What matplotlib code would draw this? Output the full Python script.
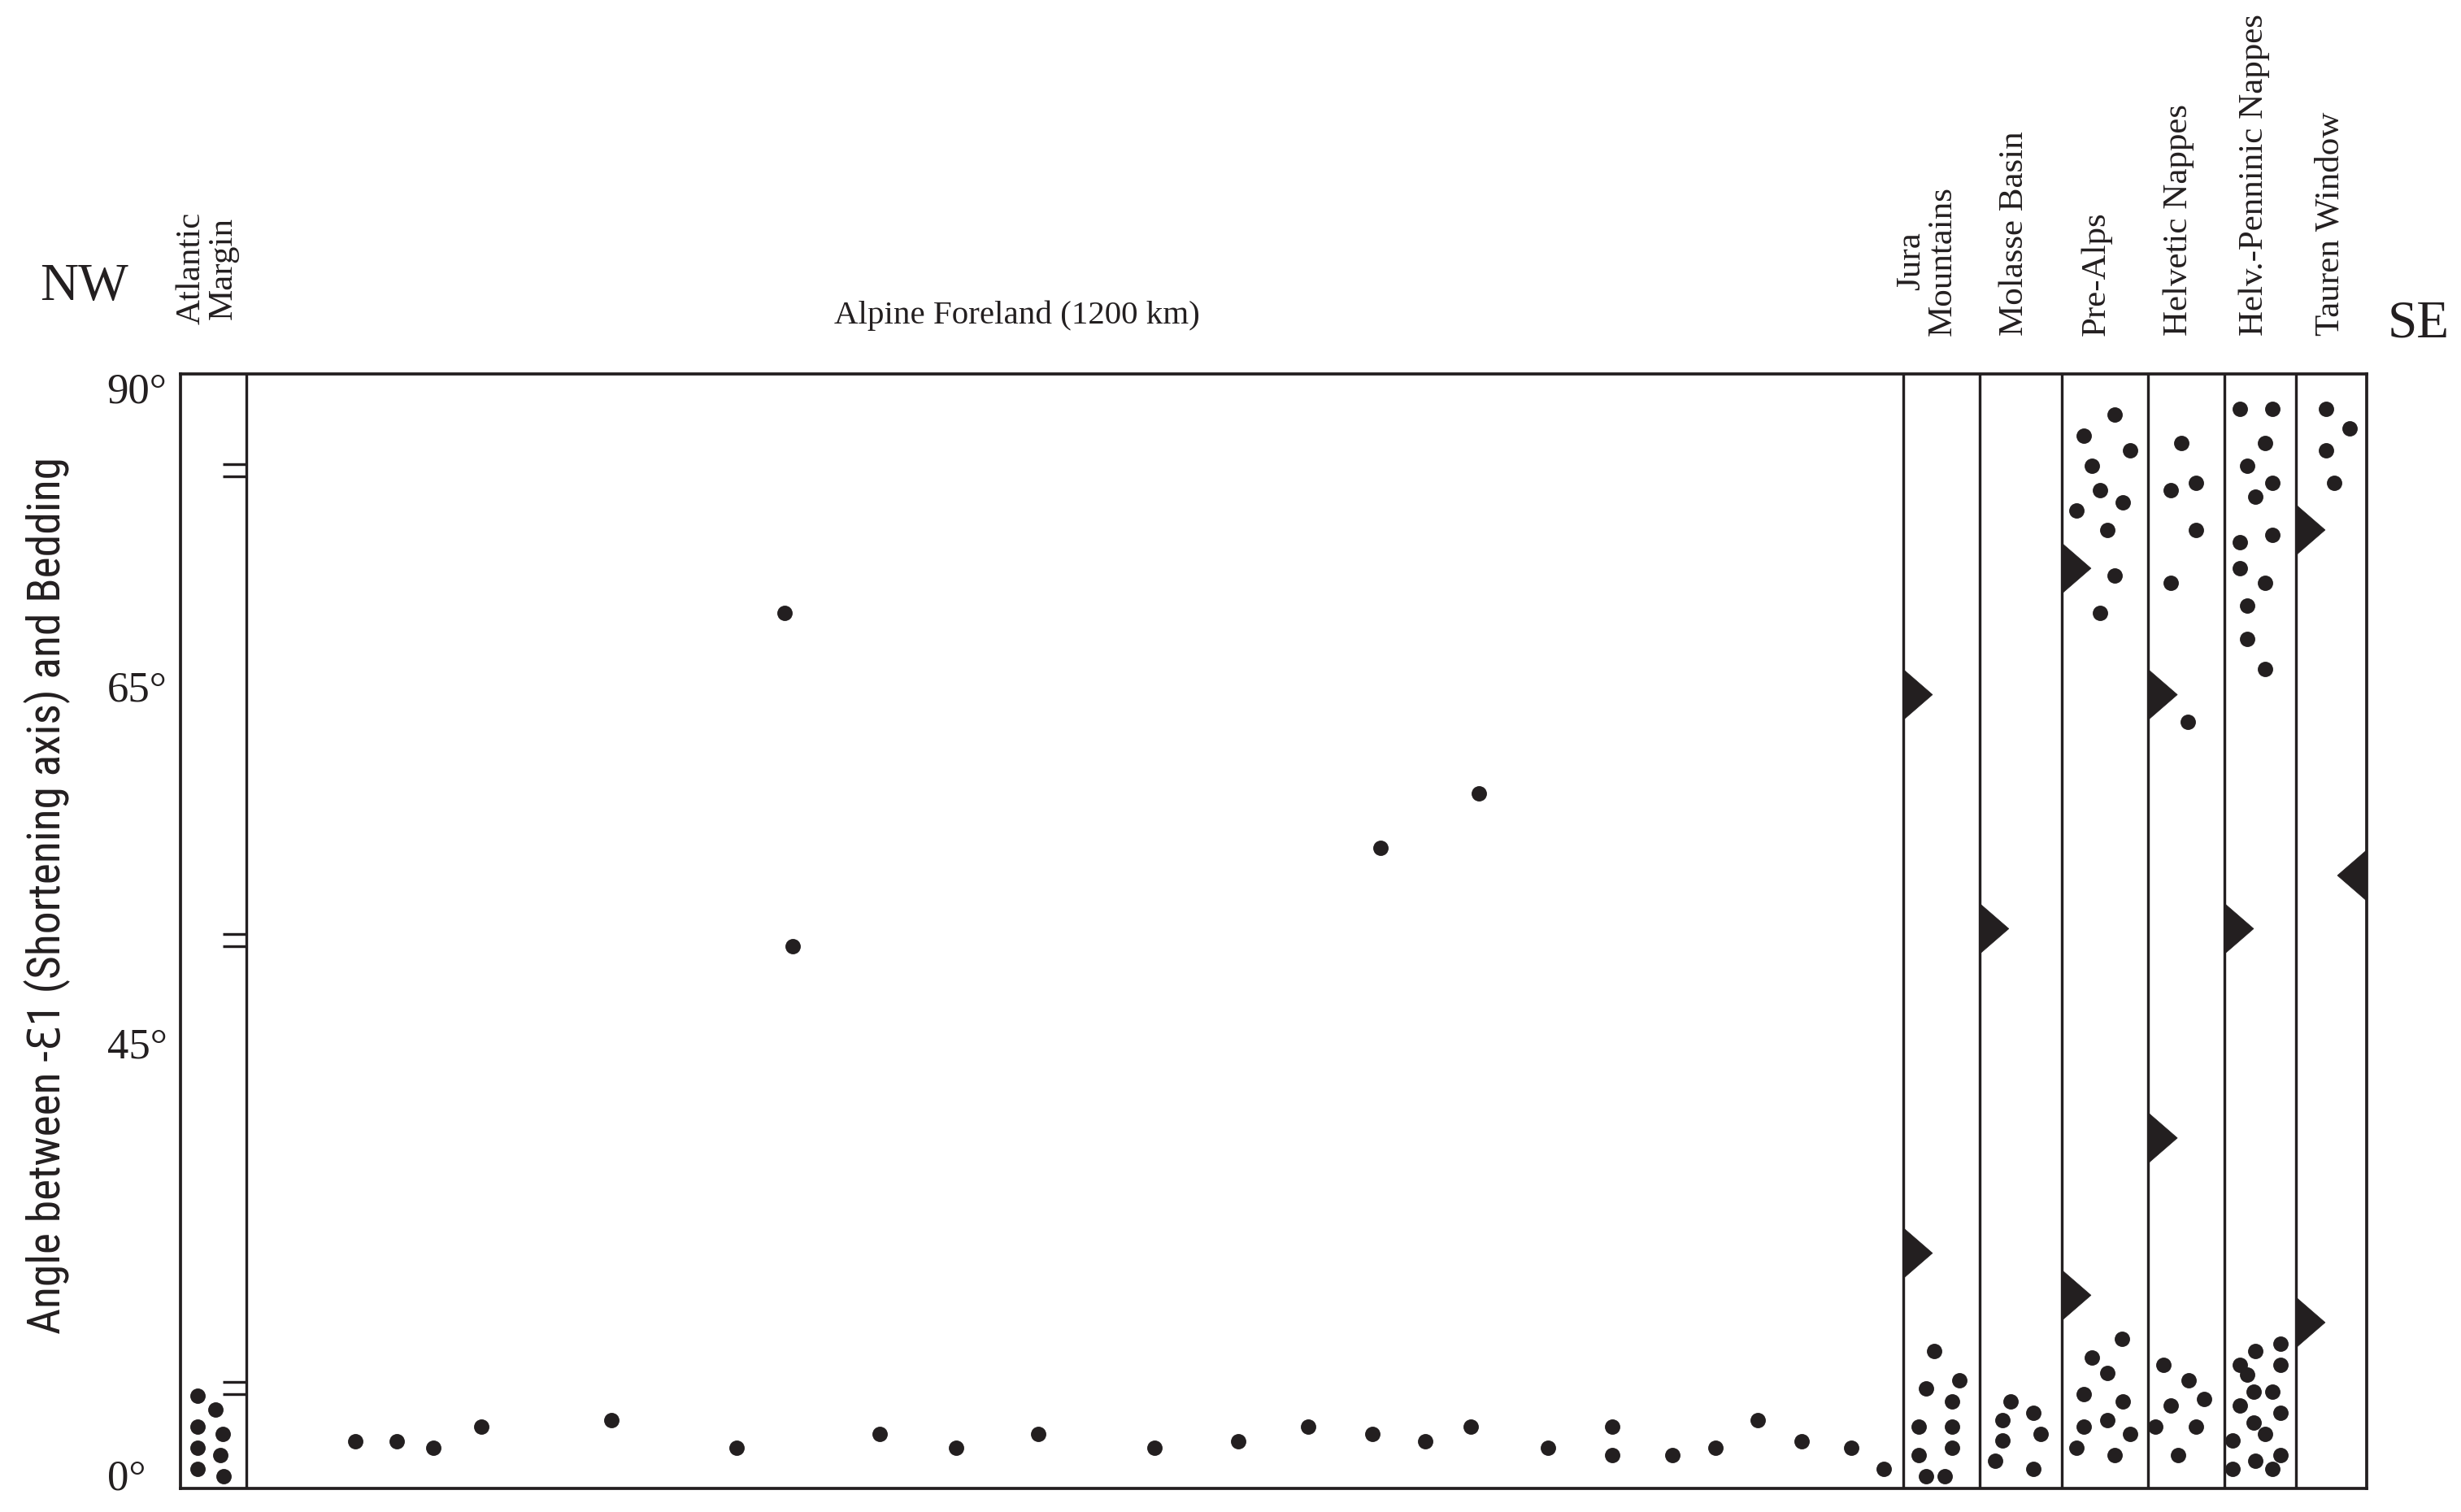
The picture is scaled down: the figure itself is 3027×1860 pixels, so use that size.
import matplotlib
matplotlib.use("Agg")
import matplotlib.pyplot as plt
from matplotlib.patches import Polygon

# ---------------- data ----------------
zone_bounds = [0, 30.1, 788.0, 822.9, 860.5, 900.0, 934.9, 967.6, 1000]

atlantic_x = [7.8, 16.0, 7.8, 19.3, 7.8, 18.2, 7.8, 19.7]
atlantic_angle = [7.5, 6.4, 5.0, 4.4, 3.3, 2.7, 1.6, 1.0]

foreland_x = [80.0, 98.9, 115.7, 137.6, 197.1, 254.4, 276.3, 280.0, 319.8, 354.8,
              392.3, 445.5, 483.8, 515.8, 545.2, 548.9, 569.4, 590.2, 593.9, 625.5,
              654.9, 654.9, 682.4, 702.1, 721.5, 741.5, 764.2, 779.1]
foreland_angle = [3.8, 3.8, 3.3, 5.0, 5.5, 3.3, 70.7, 43.8, 4.4, 3.3,
                  4.4, 3.3, 3.8, 5.0, 4.4, 51.7, 3.8, 5.0, 56.1, 3.3,
                  5.0, 2.7, 2.7, 3.3, 5.5, 3.8, 3.3, 1.6]

jura_x = [802.2, 798.4, 813.7, 810.3, 795.1, 810.3, 810.3, 795.1, 798.4, 807.0]
jura_angle = [11.1, 8.1, 8.7, 7.0, 5.0, 5.0, 3.3, 2.7, 1.0, 1.0]

molasse_x = [837.1, 833.4, 847.5, 850.9, 833.4, 830.0, 847.5]
molasse_angle = [7.0, 5.5, 6.1, 4.4, 3.9, 2.2, 1.6]

prealps_x = [884.7, 870.6, 891.8, 874.3, 878.0, 867.2, 888.4, 881.4, 884.7, 878.0,
             888.1, 874.3, 881.4, 870.6, 888.4, 881.4, 870.6, 891.8, 867.2, 884.7]
prealps_angle = [86.7, 85.0, 83.8, 82.6, 80.6, 79.0, 79.6, 77.4, 73.7, 70.7,
                 12.1, 10.6, 9.3, 7.6, 7.0, 5.5, 5.0, 4.4, 3.3, 2.7]

helvetic_x = [915.2, 910.4, 921.9, 921.9, 910.4, 918.2,
              907.0, 918.6, 925.6, 910.4, 903.3, 921.9, 913.7]
helvetic_angle = [84.4, 80.6, 81.2, 77.4, 73.1, 61.9,
                  10.0, 8.7, 7.2, 6.7, 5.0, 5.0, 2.7]

helvpenn_x = [942.0, 956.9, 953.5, 945.3, 956.9, 949.1, 956.9, 942.0, 942.0, 953.5,
              945.3, 945.3, 953.5,
              960.6, 949.1, 942.0, 945.3, 960.6, 948.3, 956.9, 942.0, 960.6, 948.3,
              953.5, 938.6, 960.6, 949.1, 938.6, 956.9]
helvpenn_angle = [87.2, 87.2, 84.4, 82.6, 81.2, 80.1, 77.0, 76.4, 74.3, 73.1,
                  71.3, 68.6, 66.2,
                  11.7, 11.1, 10.0, 9.2, 10.0, 7.8, 7.8, 6.7, 6.1, 5.3,
                  4.4, 3.9, 2.7, 2.2, 1.6, 1.6]

tauern_x = [981.4, 992.2, 981.4, 985.1]
tauern_angle = [87.2, 85.6, 83.8, 81.2]

# thrust symbols: boundary index in zone_bounds, angle, direction (+1 right, -1 left)
thrust_bound = [2, 2, 3, 4, 4, 5, 5, 6, 7, 7, 8]
thrust_angle = [64.1, 19.0, 45.2, 74.3, 15.6, 64.1, 28.3, 45.2, 77.4, 13.4, 49.5]
thrust_dir = [1, 1, 1, 1, 1, 1, 1, 1, 1, 1, -1]

break_marks = [82.2, 44.3, 8.1]

ytick_pos = [1.1, 36.0, 64.8, 88.9]
ytick_labels = ["0°", "45°", "65°", "90°"]

zone_labels = ["Atlantic\nMargin", "Jura\nMountains", "Molasse Basin", "Pre-Alps",
               "Helvetic Nappes", "Helv.-Penninic Nappes", "Tauren Window"]
zone_label_x = [12.3, 798.8, 839.0, 876.2, 914.1, 948.7, 983.3]
zone_label_y = [94.0, 93.1, 93.1, 93.1, 93.1, 93.1, 93.1]

# ---------------- style ----------------
plt.rcParams['font.family'] = ['Liberation Serif', 'DejaVu Serif']
INK = "#231f20"
LW = 2.7

fig = plt.figure(figsize=(30.27, 18.60), dpi=100)
ax = fig.add_axes([222/3027, 29/1860, (2911-222)/3027, (1831-460)/1860])
ax.set_xlim(0, 1000)
ax.set_ylim(0, 90)

for s in ax.spines.values():
    s.set_linewidth(LW)
    s.set_color(INK)

ax.set_xticks([])
ax.set_yticks(ytick_pos)
ax.set_yticklabels(ytick_labels, fontsize=38)
ax.tick_params(axis='y', length=0, pad=65, colors=INK)
for lab in ax.get_yticklabels():
    lab.set_horizontalalignment('left')

# zone boundaries
for b in zone_bounds[1:-1]:
    ax.axvline(b, color=INK, lw=LW * 0.9, zorder=2)

# axis-break marks on the Atlantic boundary
for m in break_marks:
    for d in (-0.5, 0.5):
        ax.plot([19.3, zone_bounds[1]], [m + d, m + d], color=INK, lw=LW * 0.9,
                solid_capstyle='butt', zorder=2)

# dots
all_x = [atlantic_x, foreland_x, jura_x, molasse_x, prealps_x, helvetic_x, helvpenn_x, tauern_x]
all_y = [atlantic_angle, foreland_angle, jura_angle, molasse_angle, prealps_angle,
         helvetic_angle, helvpenn_angle, tauern_angle]
for xs, ys in zip(all_x, all_y):
    ax.scatter(xs, ys, s=185, color=INK, linewidths=0, zorder=3)

# thrust triangles
half_h = 2.05
length = 13.4
for bi, a, d in zip(thrust_bound, thrust_angle, thrust_dir):
    b = zone_bounds[bi]
    tri = Polygon([(b, a + half_h), (b + d * length, a), (b, a - half_h)],
                  closed=True, facecolor=INK, edgecolor=INK, lw=0.5, zorder=4,
                  clip_on=False)
    ax.add_patch(tri)

# zone labels
for lab, lx, ly in zip(zone_labels, zone_label_x, zone_label_y):
    ax.text(lx, ly, lab, rotation=90, ha='center', va='bottom', fontsize=31,
            color=INK, linespacing=1.0, clip_on=False)

ax.text(382.7, 94.7, "Alpine Foreland (1200 km)", ha='center', va='center',
        fontsize=29.5, color=INK, clip_on=False)
ax.text(-43.9, 97.0, "NW", ha='center', va='center', fontsize=47, color=INK, clip_on=False)
ax.text(1023.8, 94.0, "SE", ha='center', va='center', fontsize=47, color=INK, clip_on=False)

ax.text(-61.0, 47.9, "Angle between -Ɛ1 (Shortening axis) and Bedding", rotation=90,
        ha='center', va='center', fontsize=40, color=INK, clip_on=False,
        family=['Roboto Condensed', 'Liberation Sans Narrow', 'DejaVu Sans'],
        fontstretch='condensed')

fig.savefig("out.png", dpi=100, facecolor='white')
